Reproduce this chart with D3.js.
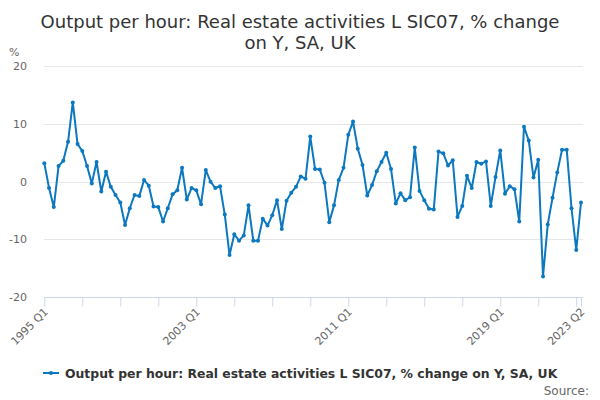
<!DOCTYPE html>
<html>
<head>
<meta charset="utf-8">
<script src="https://cdn.jsdelivr.net/npm/d3@7"></script>
<style>
  body { margin: 0; background: #fff; }
  svg { font-family: "DejaVu Sans", sans-serif; display: block; }
</style>
</head>
<body>
<script>
// quarterly data, 1995 Q1 to 2023 Q2
var years = d3.range(1995, 2024);
var quarters = [];
years.forEach(function (y) {
  ["Q1", "Q2", "Q3", "Q4"].forEach(function (q) {
    if (y === 2023 && (q === "Q3" || q === "Q4")) return;
    quarters.push(y + " " + q);
  });
});

var values = [
  3.2, -1.1, -4.4, 2.7, 3.6, 6.9, 13.7, 6.5, 5.3, 2.7,
  -0.3, 3.4, -1.7, 1.7, -0.9, -2.3, -3.6, -7.5, -4.6, -2.3,
  -2.5, 0.3, -0.7, -4.3, -4.4, -6.9, -4.6, -2.2, -1.5, 2.4,
  -3.1, -1.1, -1.5, -3.9, 2.0, 0.0, -1.1, -0.8, -5.7, -12.7,
  -9.1, -10.2, -9.3, -4.1, -10.2, -10.2, -6.4, -7.6, -5.8, -3.2,
  -8.2, -3.3, -1.9, -0.9, 0.9, 0.5, 7.8, 2.2, 2.1, -0.2,
  -7.0, -4.1, 0.3, 2.4, 8.1, 10.4, 5.7, 2.9, -2.4, -0.6,
  1.8, 3.4, 5.0, 2.2, -3.8, -2.0, -3.2, -2.7, 5.9, -1.6,
  -3.2, -4.7, -4.8, 5.2, 4.9, 2.8, 3.7, -6.1, -4.2, 1.0,
  -1.1, 3.4, 3.1, 3.5, -4.2, 0.8, 5.4, -2.1, -0.8, -1.3,
  -6.9, 9.5, 7.1, 0.7, 3.8, -16.4, -7.4, -2.8, 1.6, 5.5,
  5.5, -4.6, -11.8, -3.6
];

var yTicks = [-20, -10, 0, 10, 20];
var xLabelled = ["1995 Q1", "2003 Q1", "2011 Q1", "2019 Q1", "2023 Q2"];
var seriesName = "Output per hour: Real estate activities L SIC07, % change on Y, SA, UK";
var titleLines = ["Output per hour: Real estate activities L SIC07, % change", "on Y, SA, UK"];

var w = 600, h = 400;
var lineColor = "#0b78bf";

var svg = d3.select("body").append("svg")
  .attr("width", w)
  .attr("height", h);

var x = d3.scalePoint().domain(quarters).range([44.3, 581]);
var y = d3.scaleLinear().domain([-20, 20]).range([297.3, 66]);

// title
svg.append("text")
  .attr("x", 300)
  .attr("text-anchor", "middle")
  .attr("fill", "#333")
  .attr("font-size", "18px")
  .selectAll("tspan")
  .data(titleLines)
  .enter()
  .append("tspan")
  .attr("x", 300)
  .attr("y", function (d, i) { return 28 + i * 21; })
  .text(function (d) { return d; });

// gridlines
svg.append("g")
  .selectAll("line")
  .data(yTicks.filter(function (d) { return d !== -20; }))
  .enter()
  .append("line")
  .attr("x1", 44)
  .attr("x2", 583)
  .attr("y1", function (d) { return Math.round(y(d)) + 0.5; })
  .attr("y2", function (d) { return Math.round(y(d)) + 0.5; })
  .attr("stroke", "#e6e6e6");

// y axis labels
svg.append("g")
  .selectAll("text")
  .data(yTicks)
  .enter()
  .append("text")
  .attr("x", 27)
  .attr("y", function (d) { return y(d) + 4; })
  .attr("text-anchor", "end")
  .attr("font-size", "11px")
  .attr("fill", "#666")
  .text(function (d) { return d; });

svg.append("text")
  .attr("x", 9)
  .attr("y", 56)
  .attr("font-size", "11px")
  .attr("fill", "#666")
  .text("%");

// x axis
var tickQuarters = quarters.filter(function (d, i) { return i % 8 === 0 || i === quarters.length - 1; });
var xAxis = d3.axisBottom(x)
  .tickValues(tickQuarters)
  .tickSize(9)
  .tickFormat(function (d) { return xLabelled.indexOf(d) >= 0 ? d : ""; });

var gx = svg.append("g")
  .attr("transform", "translate(0," + (Math.round(y(-20)) + 0.5) + ")")
  .call(xAxis);
gx.select(".domain").attr("stroke", "#ccd6eb").attr("d", "M44,0H583");
gx.selectAll(".tick line").attr("stroke", "#ccd6eb");
gx.selectAll(".tick text")
  .attr("fill", "#666")
  .attr("font-size", "11px")
  .attr("font-family", "DejaVu Sans, sans-serif")
  .attr("text-anchor", "end")
  .attr("dy", null)
  .attr("y", 0)
  .attr("transform", "translate(4,15) rotate(-45)");

// line
var line = d3.line()
  .x(function (d, i) { return x(quarters[i]); })
  .y(function (d) { return y(d); });

svg.append("path")
  .datum(values)
  .attr("d", line)
  .attr("fill", "none")
  .attr("stroke", lineColor)
  .attr("stroke-width", 2)
  .attr("stroke-linejoin", "round");

svg.append("g")
  .selectAll("circle")
  .data(values)
  .enter()
  .append("circle")
  .attr("cx", function (d, i) { return x(quarters[i]); })
  .attr("cy", function (d) { return y(d); })
  .attr("r", 2)
  .attr("fill", lineColor);

// legend
var lg = svg.append("g").attr("transform", "translate(0,373)");
lg.append("line")
  .attr("x1", 43).attr("x2", 59)
  .attr("y1", 0).attr("y2", 0)
  .attr("stroke", lineColor)
  .attr("stroke-width", 2);
lg.append("circle").attr("cx", 51).attr("cy", 0).attr("r", 2).attr("fill", lineColor);
lg.append("text")
  .attr("x", 65)
  .attr("y", 4.5)
  .attr("font-size", "12.4px")
  .attr("font-weight", "bold")
  .attr("fill", "#333")
  .text(seriesName);

svg.append("text")
  .attr("x", 589)
  .attr("y", 395)
  .attr("text-anchor", "end")
  .attr("font-size", "12px")
  .attr("fill", "#666")
  .text("Source:");
</script>
</body>
</html>
